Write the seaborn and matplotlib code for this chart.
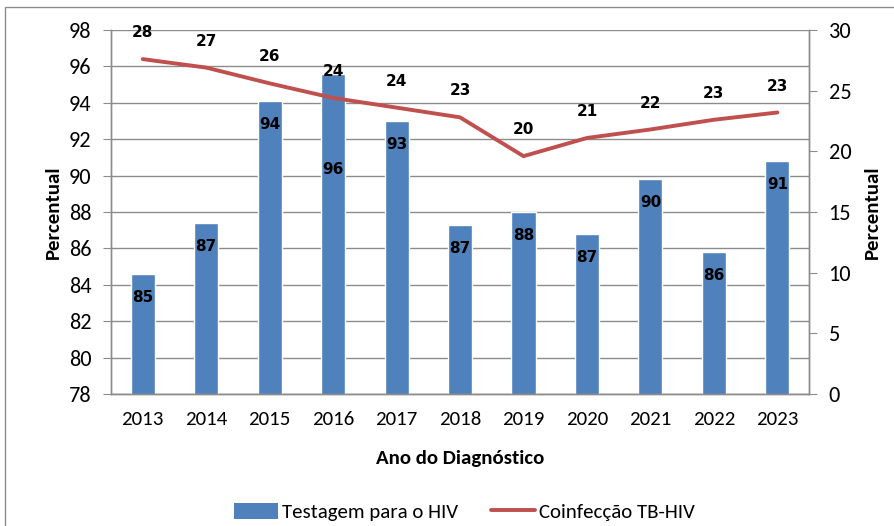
import numpy as np
import pandas as pd
import matplotlib.pyplot as plt
import seaborn as sns
from matplotlib.patches import Rectangle, Patch
from matplotlib.lines import Line2D

# data
years = [2013, 2014, 2015, 2016, 2017, 2018, 2019, 2020, 2021, 2022, 2023]
testagem = [84.6, 87.4, 94.1, 95.6, 93.0, 87.3, 88.0, 86.8, 89.8, 85.8, 90.8]
coinfeccao = [27.6, 26.9, 25.6, 24.4, 23.6, 22.8, 19.6, 21.1, 21.8, 22.6, 23.2]
testagem_lbl = [85, 87, 94, 96, 93, 87, 88, 87, 90, 86, 91]
coinf_lbl = [28, 27, 26, 24, 24, 23, 20, 21, 22, 23, 23]

bar_col = '#4F81BD'
line_col = '#C0504D'
grid_col = '#8C8C8C'

sns.set_style('white')
plt.rcParams['font.family'] = ['Carlito', 'DejaVu Sans']
plt.rcParams.update({'text.color': 'black', 'axes.labelcolor': 'black',
                     'xtick.color': 'black', 'ytick.color': 'black'})

df = pd.DataFrame({'ano': years, 'testagem': testagem, 'coinf': coinfeccao})
df['pos'] = np.arange(len(df))

fig = plt.figure(figsize=(8.95, 5.26), dpi=100)
ax = fig.add_axes([0.124, 0.251, 0.780, 0.692])

sns.barplot(data=df, x='ano', y='testagem', color=bar_col, width=0.38,
            saturation=1, ax=ax, zorder=2)
ax.set_ylim(78, 98)
ax.set_yticks(np.arange(78, 99, 2))
ax.set_xlim(-0.5, len(years) - 0.5)
ax.yaxis.grid(True, color=grid_col, linewidth=1)
ax.set_axisbelow(True)

ax2 = ax.twinx()
sns.lineplot(data=df, x='pos', y='coinf', color=line_col, linewidth=2.8, ax=ax2)
ax2.set_ylim(0, 30)
ax2.set_yticks(np.arange(0, 31, 5))
ax2.set_xlim(-0.5, len(years) - 0.5)

# tick marks between categories, like the original
ax.set_xticks(np.arange(-0.5, len(years), 1), minor=True)
ax.tick_params(axis='x', which='major', length=0, labelsize=15, pad=12)
ax.tick_params(axis='x', which='minor', length=6, color=grid_col, direction='out')
ax.tick_params(axis='y', length=6, color=grid_col, labelsize=16, direction='out',
               left=True, pad=8)
ax2.tick_params(axis='y', length=6, color=grid_col, labelsize=16, direction='out',
                right=True, pad=8)

for a in (ax, ax2):
    for s in a.spines.values():
        s.set_color(grid_col)
        s.set_linewidth(1)
    a.spines['top'].set_visible(False)

ax.set_xlabel('Ano do Diagnóstico', fontsize=15, fontweight='bold', labelpad=16)
ax.set_ylabel('Percentual', fontsize=15, fontweight='bold', labelpad=5)
ax2.set_ylabel('Percentual', fontsize=15, fontweight='bold', labelpad=9)

# data labels
for i, (v, lb) in enumerate(zip(testagem, testagem_lbl)):
    shift = -69 if years[i] == 2016 else -17
    ax.annotate(str(lb), (i, v), xytext=(0, shift), textcoords='offset points',
                ha='center', va='center', fontsize=11, fontweight='bold',
                family=['DejaVu Sans'], zorder=5)
for i, (v, lb) in enumerate(zip(coinfeccao, coinf_lbl)):
    ax2.annotate(str(lb), (i, v), xytext=(0, 19), textcoords='offset points',
                 ha='center', va='center', fontsize=11, fontweight='bold',
                 family=['DejaVu Sans'], annotation_clip=False)

handles = [Patch(facecolor=bar_col, edgecolor='none'),
           Line2D([0], [0], color=line_col, linewidth=2.8)]
fig.legend(handles, ['Testagem para o HIV', 'Coinfecção TB-HIV'], loc='center',
           bbox_to_anchor=(0.519, 0.027), ncol=2, frameon=False, fontsize=15,
           handlelength=2.1, handleheight=0.8, columnspacing=1.6, handletextpad=0.2)

# outer chart border
fig.patches.append(Rectangle((5 / 895, -0.1), 1.2, 1.1 - 7 / 526, transform=fig.transFigure,
                             fill=False, edgecolor='#8C8C8C', linewidth=1))

fig.savefig('out.png', dpi=100)
